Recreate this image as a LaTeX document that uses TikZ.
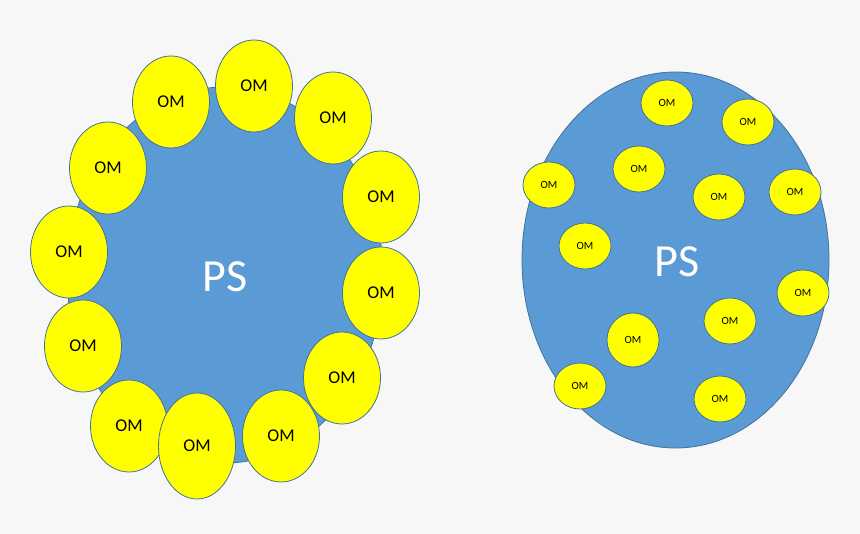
\documentclass[tikz,border=0pt]{standalone}
\usepackage{fontspec}
\setmainfont{Carlito}
\usetikzlibrary{shapes.geometric}
\definecolor{bg}{HTML}{F7F7F7}
\definecolor{psblue}{HTML}{5B9BD5}
\definecolor{edgeblue}{HTML}{41719C}
\definecolor{omyellow}{HTML}{FFFF00}
\tikzset{
  psbody/.style={ellipse, fill=psblue, draw=edgeblue, line width=0.8pt, inner sep=0pt, text=white, font=\fontsize{46}{50}\selectfont},
  bigom/.style={ellipse, fill=omyellow, draw=edgeblue, line width=0.8pt, inner sep=0pt, minimum width=77, minimum height=92, font=\fontsize{18}{20}\selectfont},
  smallom/.style={ellipse, fill=omyellow, draw=edgeblue, line width=0.8pt, inner sep=0pt, minimum width=52, minimum height=46, font=\fontsize{11}{13}\selectfont},
}
\begin{document}
\begin{tikzpicture}[x=1pt,y=-1pt]
\fill[bg] (0,0) rectangle (860,534);
\useasboundingbox (0,0) rectangle (860,534);
% left cluster
\node[psbody, minimum width=316, minimum height=376] (psL) at (225,275) {};
\node[text=white, font=\fontsize{46}{50}\selectfont] (psLt) at (225,277) {PS};
\node[bigom] (l1) at (171,102) {OM};
\node[bigom] (l2) at (254,86) {OM};
\node[bigom] (l3) at (333,118) {OM};
\node[bigom] (l4) at (108,168) {OM};
\node[bigom] (l5) at (381,197) {OM};
\node[bigom] (l6) at (69,252) {OM};
\node[bigom] (l7) at (381,293) {OM};
\node[bigom] (l8) at (83,346) {OM};
\node[bigom] (l9) at (342,378) {OM};
\node[bigom] (l10) at (129,426) {OM};
\node[bigom, minimum height=106] (l11) at (197,446) {OM};
\node[bigom] (l12) at (281,436) {OM};
% right cluster
\node[psbody, minimum width=307, minimum height=376] (psR) at (675.5,260) {};
\node[text=white, font=\fontsize{46}{50}\selectfont] (psRt) at (677,262) {PS};
\node[smallom] (r1) at (667,103) {OM};
\node[smallom] (r2) at (748,122) {OM};
\node[smallom] (r3) at (549,185) {OM};
\node[smallom] (r4) at (639,169) {OM};
\node[smallom] (r5) at (719,197) {OM};
\node[smallom] (r6) at (795,192) {OM};
\node[smallom] (r7) at (585,246) {OM};
\node[smallom] (r8) at (803,293) {OM};
\node[smallom] (r9) at (730,321) {OM};
\node[smallom, minimum height=54] (r10) at (633,340) {OM};
\node[smallom] (r11) at (580,386) {OM};
\node[smallom] (r12) at (720,399) {OM};
\end{tikzpicture}
\end{document}
